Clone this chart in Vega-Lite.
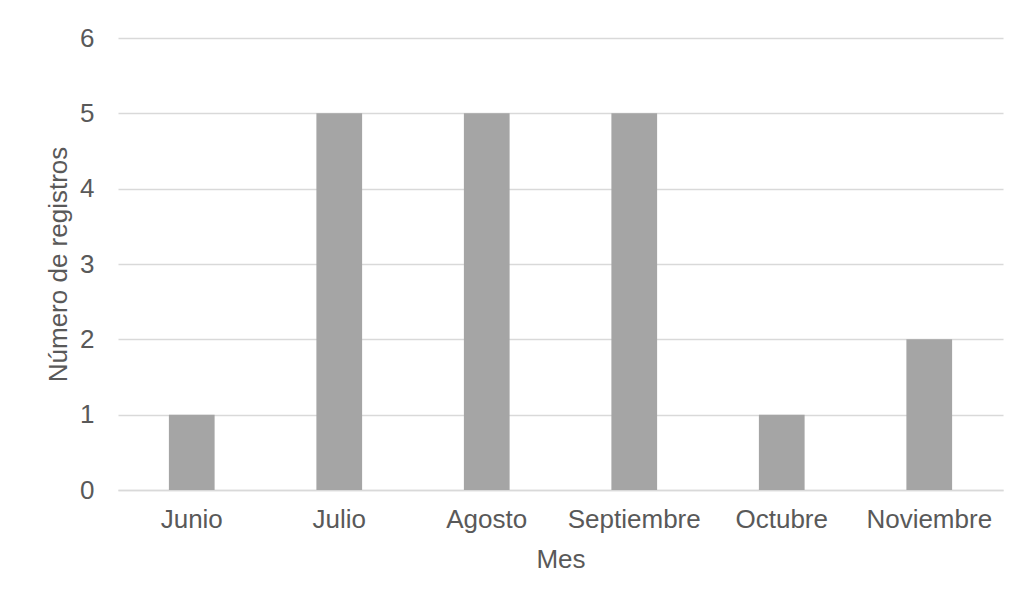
{
  "$schema": "https://vega.github.io/schema/vega-lite/v6.json",
  "width": 885,
  "height": 452,
  "autosize": "none",
  "padding": {"left": 118, "top": 38, "right": 19, "bottom": 113},
  "background": "white",
  "config": {
    "view": {"stroke": null},
    "font": "Liberation Sans",
    "axis": {"labelFont": "Liberation Sans", "titleFont": "Liberation Sans", "labelColor": "#595959", "titleColor": "#595959", "labelFontSize": 26, "titleFontSize": 26, "titleFontWeight": "normal"}
  },
  "data": {
    "values": [
      {"Mes": "Junio", "Registros": 1},
      {"Mes": "Julio", "Registros": 5},
      {"Mes": "Agosto", "Registros": 5},
      {"Mes": "Septiembre", "Registros": 5},
      {"Mes": "Octubre", "Registros": 1},
      {"Mes": "Noviembre", "Registros": 2}
    ]
  },
  "mark": {"type": "bar", "color": "#a5a5a5"},
  "encoding": {
    "x": {
      "field": "Mes", "type": "nominal", "sort": null,
      "scale": {"paddingInner": 0.69, "paddingOuter": 0.345},
      "axis": {"title": "Mes", "labelAngle": 0, "ticks": false, "domainColor": "#d9d9d9", "domainWidth": 1.5, "labelPadding": 16, "titlePadding": 14, "labelOverlap": false}
    },
    "y": {
      "field": "Registros", "type": "quantitative",
      "scale": {"domain": [0, 6]},
      "axis": {"title": "Número de registros", "values": [0, 1, 2, 3, 4, 5, 6], "ticks": false, "domain": false, "gridColor": "#d9d9d9", "gridWidth": 1.5, "labelPadding": 24, "titlePadding": 8, "labelOverlap": false}
    }
  }
}
